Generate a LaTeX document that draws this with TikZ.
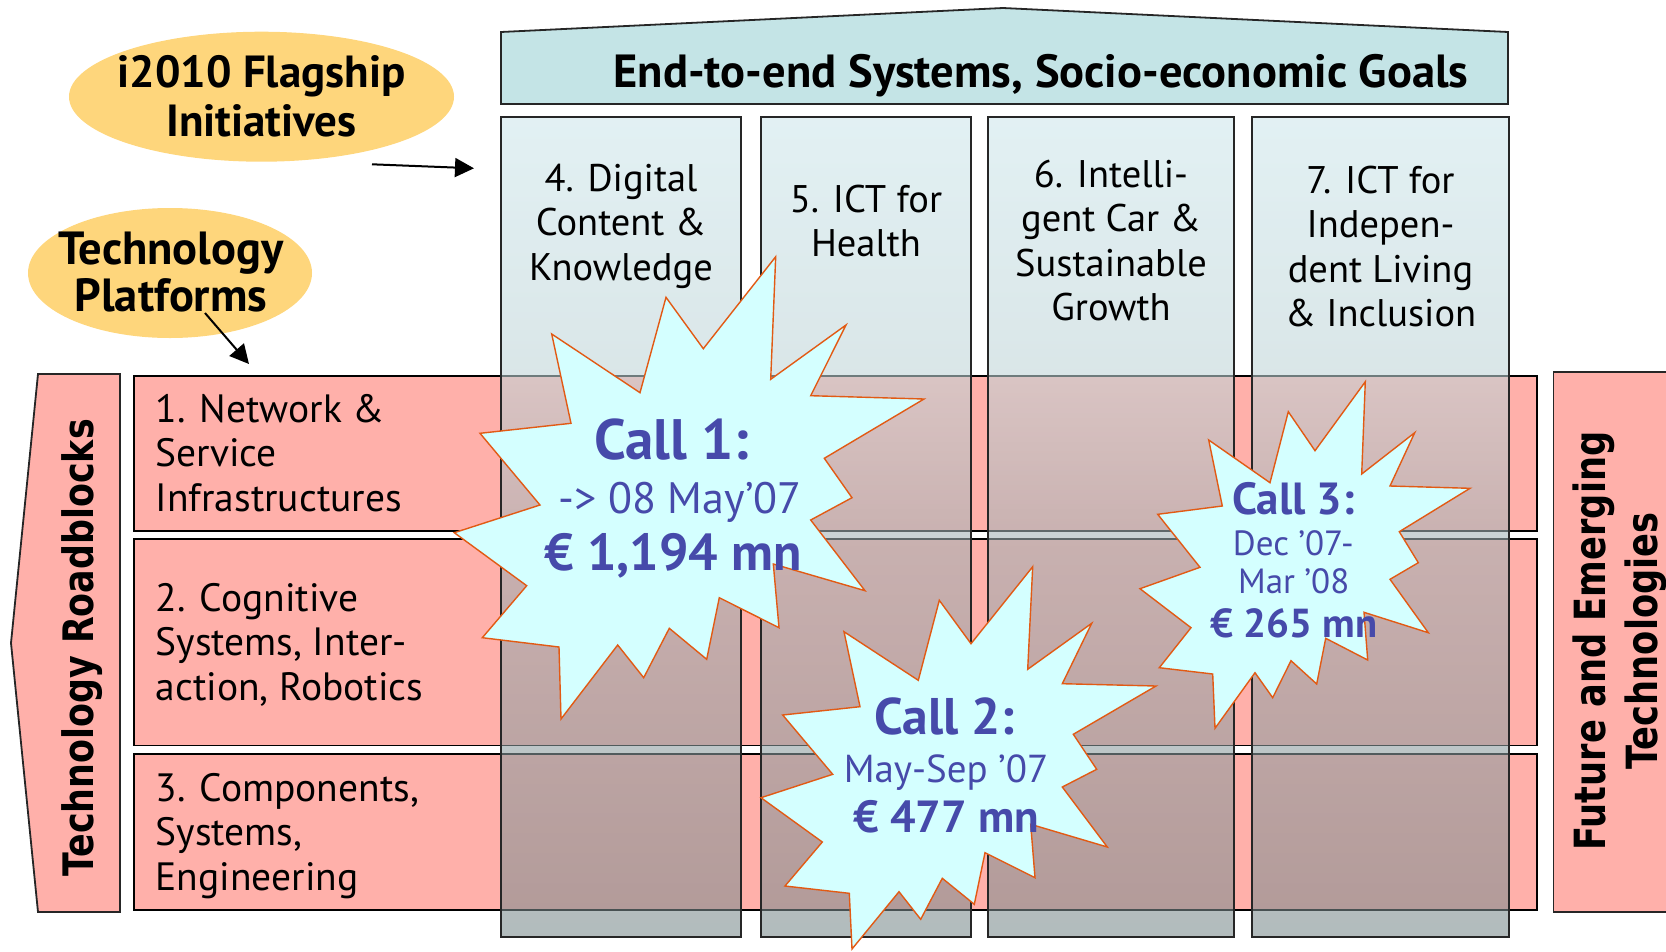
\documentclass[tikz,border=0pt]{standalone}
\usepackage{graphicx}
\usepackage{fontspec}
\setmainfont{PT Sans}
\newfontfamily\vsans{DejaVu Sans}
\usetikzlibrary{arrows.meta,shapes.geometric}
\definecolor{pinkrow}{RGB}{255,176,170}
\definecolor{bannerc}{RGB}{196,228,230}
\definecolor{ellc}{RGB}{254,214,124}
\definecolor{starfill}{RGB}{212,255,255}
\definecolor{starline}{RGB}{226,90,20}
\definecolor{calltext}{RGB}{70,74,170}
\definecolor{ctop}{RGB}{205,230,235}
\definecolor{cmida}{RGB}{191,212,215}
\definecolor{cmidb}{RGB}{162,178,181}
\definecolor{cbot}{RGB}{122,138,140}
\pgfdeclareverticalshading{colshade}{100bp}{color(0bp)=(cbot); color(25bp)=(cbot); color(49.2bp)=(cmidb); color(59.2bp)=(cmida); color(75bp)=(ctop); color(100bp)=(ctop)}
\newcommand\mlc[1]{\begin{tabular}[t]{@{}c@{}}#1\end{tabular}}
\newcommand\mll[1]{\begin{tabular}[t]{@{}l@{}}#1\end{tabular}}
\begin{document}
\begin{tikzpicture}[x=1pt,y=-1pt,
  rowbox/.style={fill=pinkrow, draw=black, line width=1.8pt},
  colframe/.style={draw=black!85, line width=1.8pt},
  colfill/.style={shading=colshade, fill opacity=0.58},
  starshape/.style={fill=starfill, draw=starline, line width=1.4pt, line join=miter},
  txt/.style={inner sep=0pt, anchor=base},
  coltext/.style={txt, font=\fontsize{38.5}{44.5}\selectfont},
  rowtext/.style={txt, font=\fontsize{39.5}{44.5}\selectfont},
  elltext/.style={txt, font=\bfseries\fontsize{45}{49}\selectfont},
  ellbox/.style={ellipse, fill=ellc, inner sep=0pt},
  calltxt/.style={txt, text=calltext},
  arr/.style={line width=2pt, -{Triangle[length=19pt,width=19pt]}}
]
\useasboundingbox (0,0) rectangle (1666,951);

% top banner
\draw[fill=bannerc, draw=black!85, line width=1.8pt]
  (501,32) -- (1003,8) -- (1508,32) -- (1508,104) -- (501,104) -- cycle;
\node[txt, font=\bfseries\fontsize{46.5}{52}\selectfont] (banner) at (1041,87.5)
  {End-to-end Systems, Socio-economic Goals};

% rows
\draw[rowbox] (134,376) rectangle (1537,531);
\draw[rowbox] (134,539) rectangle (1537,745.5);
\draw[rowbox] (134,754) rectangle (1537,910);

% columns
\foreach \xa/\xb in {501/741, 761/971, 988/1234, 1252/1509}{
  \shade[colfill] (\xa,117) rectangle (\xb,937);
  \draw[colframe] (\xa,117) rectangle (\xb,937);
}

% left and right side boxes
\draw[fill=pinkrow, draw=black!85, line width=1.8pt]
  (38,374) -- (120,374) -- (120,912) -- (38,912) -- (11,643) -- cycle;
\draw[fill=pinkrow, draw=black!85, line width=1.8pt]
  (1553.5,372) rectangle (1690,912);
\node[txt, rotate=90] (roadblocks) at (93.3,648)
  {\scalebox{0.83}[1]{\vsans\bfseries\fontsize{42}{50}\selectfont Technology Roadblocks}};
\node[txt, rotate=90] (fet) at (1605,641)
  {\scalebox{0.82}[1]{\vsans\bfseries\fontsize{43}{52}\selectfont\mlc{Future and Emerging\\Technologies}}};

% ellipses
\node[ellbox, minimum width=385pt, minimum height=130pt] (i2010) at (261.5,96.7) {};
\node[elltext] (i2010t) at (261.5,87.3) {\mlc{i2010 Flagship\\Initiatives}};
\node[ellbox, minimum width=284pt, minimum height=130pt] (techplat) at (170,273) {};
\node[elltext, font=\bfseries\fontsize{46.5}{47}\selectfont] (techplatt) at (171,264) {\mlc{Technology\\Platforms}};

% arrows
\coordinate (a1s) at (372,164.3);
\coordinate (a1e) at (474,168.3);
\draw[arr] (a1s) -- (a1e);
\coordinate (a2s) at (205,313);
\coordinate (a2e) at (249,364);
\draw[arr] (a2s) -- (a2e);

% column texts
\node[coltext] (c4t) at (621,191) {\mlc{4. Digital\\Content \&\\Knowledge}};
\node[coltext] (c5t) at (866,212) {\mlc{5. ICT for\\Health}};
\node[coltext] (c6t) at (1111,187) {\mlc{6. Intelli-\\gent Car \&\\Sustainable\\Growth}};
\node[coltext] (c7t) at (1380.5,193) {\mlc{7. ICT for\\Indepen-\\dent Living\\\& Inclusion}};

% row texts
\node[rowtext, anchor=base west] (r1t) at (155.6,422) {\mll{1. Network \&\\Service\\Infrastructures}};
\node[rowtext, anchor=base west] (r2t) at (155.6,611) {\mll{2. Cognitive\\Systems, Inter-\\action, Robotics}};
\node[rowtext, anchor=base west] (r3t) at (155.6,801) {\mll{3. Components,\\Systems,\\Engineering}};

% Call 1 star
\draw[starshape] (551.7,334) -- (640,392.7) -- (666,297.3) -- (703.3,348.7) -- (775.7,256.7) -- (770.7,379.3) -- (846,325) -- (810.7,395.7) -- (924,399) -- (824.3,458.3) -- (852,497.7) -- (810.7,520) -- (865,590.7) -- (773.3,564) -- (779,627.7) -- (719.3,597.7) -- (706.7,659.3) -- (669.3,628.3) -- (643.7,677.7) -- (617.7,645) -- (561,719) -- (559,647) -- (482.3,637.7) -- (526.7,585.7) -- (454.3,532.7) -- (540,505) -- (480,433.3) -- (571,423.3) -- cycle;
\node[calltxt, font=\bfseries\fontsize{57}{62}\selectfont] (call1a) at (671.7,459) {Call 1:};
\node[calltxt, font=\fontsize{44}{50}\selectfont] (call1b) at (680,513) {-> 08 May’07};
\node[calltxt, font=\bfseries\fontsize{52}{58}\selectfont] (call1c) at (673,570) {€ 1,194 mn};

% Call 2 star
\draw[starshape] (844,631.7) -- (918.3,680.3) -- (939.3,600.3) -- (971,643.7) -- (1032.7,566.7) -- (1027.7,669.3) -- (1091.7,623.3) -- (1062.3,683.7) -- (1156,686) -- (1073.3,734.3) -- (1096.7,769.3) -- (1062.3,787) -- (1107.3,847) -- (1030.7,824.3) -- (1035,877.7) -- (985,852.7) -- (974.3,904.3) -- (942.3,878.3) -- (920.7,919.3) -- (899,891.7) -- (852,949) -- (849.3,893.3) -- (785,886) -- (822.3,842) -- (761,797.7) -- (832.7,774.3) -- (782.7,715) -- (860,706.7) -- cycle;
\node[calltxt, font=\bfseries\fontsize{51.5}{56}\selectfont] (call2a) at (944.7,734.3) {Call 2:};
\node[calltxt, font=\fontsize{39}{44}\selectfont] (call2b) at (946,782) {May-Sep ’07};
\node[calltxt, font=\bfseries\fontsize{45}{50}\selectfont] (call2c) at (946,832) {€ 477 mn};

% Call 3 star
\draw[starshape] (1208.7,440) -- (1270,482.7) -- (1288.3,411.7) -- (1315,450.7) -- (1365.3,381.7) -- (1361.7,474) -- (1414.7,432.7) -- (1390,486) -- (1470,488.3) -- (1399.3,531.7) -- (1418.3,562.7) -- (1390,579.3) -- (1428.3,632.7) -- (1364,612.3) -- (1367.7,660) -- (1325.7,638.3) -- (1316.7,684) -- (1291,660.7) -- (1272.7,697.7) -- (1255,672.7) -- (1215,728.3) -- (1212.7,674) -- (1159.3,667.7) -- (1191,627.7) -- (1140,588.7) -- (1200,567.3) -- (1157.7,514.3) -- (1222.3,506) -- cycle;
\node[calltxt, font=\bfseries\fontsize{45}{50}\selectfont] (call3a) at (1293.3,514.3) {Call 3:};
\node[calltxt, font=\fontsize{35}{40}\selectfont] (call3b) at (1293.3,555) {Dec ’07-};
\node[calltxt, font=\fontsize{35}{40}\selectfont] (call3c) at (1293.7,593.3) {Mar ’08};
\node[calltxt, font=\bfseries\fontsize{40.5}{46}\selectfont] (call3d) at (1294,637.7) {€ 265 mn};
\end{tikzpicture}
\end{document}
